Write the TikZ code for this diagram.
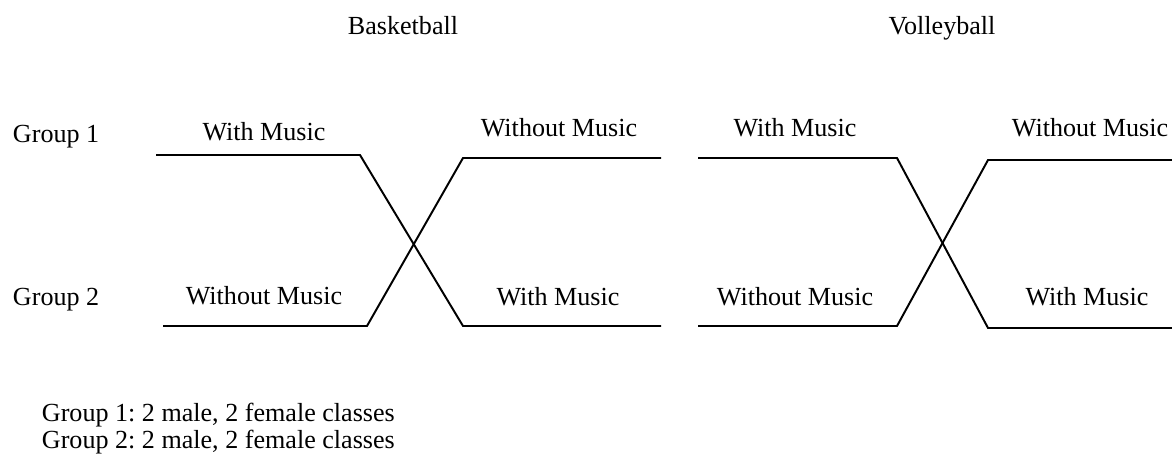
\documentclass[tikz,border=0pt]{standalone}
\usepackage{fontspec}
\setmainfont{Liberation Serif}
\frenchspacing

\begin{document}
\begin{tikzpicture}[x=0.46pt,y=-0.46pt,line width=0.9pt,main label/.style={anchor=base,inner sep=0pt,font=\fontsize{12}{14}\selectfont},left label/.style={main label,anchor=base west}]

            \useasboundingbox (0,0) rectangle (1172,455);

            % titles
            \node[main label] (b) at (403,35) {Basketball};
            \node[main label] (v) at (942,35) {Volleyball};

            % groups
            \node[left label] (g1) at (12,142) {Group 1};
            \node[left label] (g2) at (12,305) {Group 2};

            % basketball labels
            \node[main label] (1) at (264,141) {With Music};
            \node[main label] (2) at (559,137) {Without Music};
            \node[main label] (3) at (264,304) {Without Music};
            \node[main label] (4) at (558,305) {With Music};

            % volleyball labels
            \node[main label] (5) at (795,137) {With Music};
            \node[main label] (6) at (1090,137) {Without Music};
            \node[main label] (7) at (795,305) {Without Music};
            \node[main label] (8) at (1087,305) {With Music};

            % line ends
            \coordinate (a1) at (156,155);
            \coordinate (a2) at (360,155);
            \coordinate (a3) at (463,326);
            \coordinate (a4) at (661,326);
            \coordinate (c1) at (163,326);
            \coordinate (c2) at (367,326);
            \coordinate (c3) at (463,158);
            \coordinate (c4) at (661,158);

            \coordinate (d1) at (698,158);
            \coordinate (d2) at (897,158);
            \coordinate (d3) at (988,328);
            \coordinate (d4) at (1172,328);
            \coordinate (e1) at (698,326);
            \coordinate (e2) at (897,326);
            \coordinate (e3) at (988,160);
            \coordinate (e4) at (1172,160);

            \draw[-] (a1) -- (a2) -- (a3) -- (a4);
            \draw[-] (c1) -- (c2) -- (c3) -- (c4);
            \draw[-] (d1) -- (d2) -- (d3) -- (d4);
            \draw[-] (e1) -- (e2) -- (e3) -- (e4);

            % note
            \node[left label] (n1) at (41,421) {Group 1: 2 male, 2 female classes};
            \node[left label] (n2) at (41,448) {Group 2: 2 male, 2 female classes};

            ;
        \end{tikzpicture}
\end{document}
